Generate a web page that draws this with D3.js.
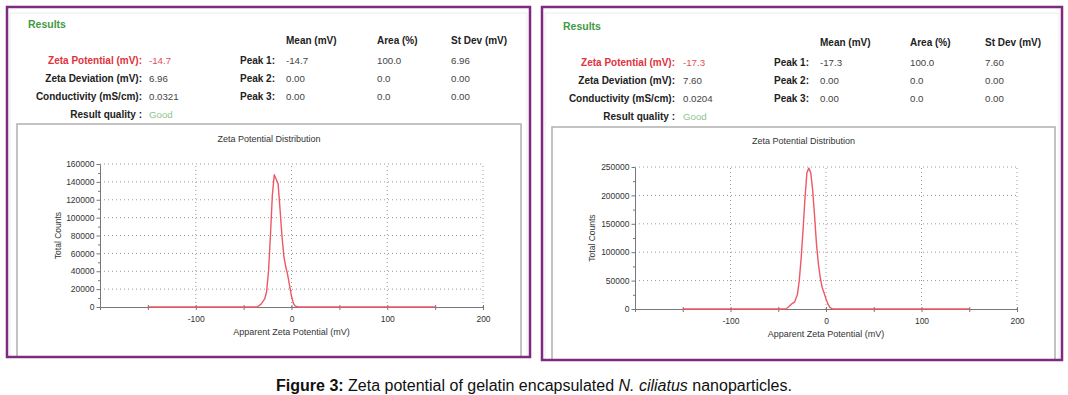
<!DOCTYPE html>
<html lang="en">
<head>
<meta charset="UTF-8">
<title>Zeta potential of gelatin encapsulated N. ciliatus nanoparticles</title>
<script src="https://d3js.org/d3.v7.min.js"></script>
<style>
  body { margin: 0; padding: 0; background: #fff; }
  svg { display: block; font-family: "Liberation Sans", Arial, sans-serif; }
  .lbl { font-weight: bold; fill: #222; font-size: 10px; }
  .val { fill: #444; font-size: 9.7px; }
  .axis text { font-size: 8.5px; fill: #333; font-family: "Liberation Sans", Arial, sans-serif; }
  .axis path, .axis line { stroke: #777; }
  .grid { stroke: #9a9a9a; stroke-dasharray: 1,3; fill: none; }
</style>
</head>
<body>
<svg id="fig" width="1068" height="395"></svg>
<script>
// results table
const resultLabels = ["Zeta Potential (mV):", "Zeta Deviation (mV):", "Conductivity (mS/cm):", "Result quality :"];
const leftResultValues = ["-14.7", "6.96", "0.0321", "Good"];
const rightResultValues = ["-17.3", "7.60", "0.0204", "Good"];
const peakLabels = ["Peak 1:", "Peak 2:", "Peak 3:"];
const peakColumns = ["Mean (mV)", "Area (%)", "St Dev (mV)"];
const leftPeaks = [["-14.7", "100.0", "6.96"], ["0.00", "0.0", "0.00"], ["0.00", "0.0", "0.00"]];
const rightPeaks = [["-17.3", "100.0", "7.60"], ["0.00", "0.0", "0.00"], ["0.00", "0.0", "0.00"]];

// distribution curves (mV, total counts)
const leftX = [-150, -36, -32, -28, -26, -24, -22, -20, -18, -16, -14, -12, -10, -8, -6, -4, -2, 0, 2, 4, 7, 150];
const leftY = [0, 0, 3000, 9000, 17000, 40000, 80000, 125000, 148000, 143000, 138000, 110000, 80000, 57000, 45000, 36000, 24000, 12000, 4000, 1000, 0, 0];
const rightX = [-150, -42, -39, -36, -33, -30, -28, -26, -24, -22, -20, -18, -16, -14, -12, -10, -8, -6, -4, -2, 0, 2, 4, 7, 150];
const rightY = [0, 0, 4000, 9000, 12000, 25000, 50000, 90000, 140000, 195000, 240000, 248000, 240000, 210000, 165000, 115000, 80000, 55000, 38000, 28000, 18000, 9000, 3000, 0, 0];

// ticks
const xDomain = [-200, 200];
const xTicks = [-200, -150, -100, -50, 0, 50, 100, 150, 200];
const xLabelTicks = [-100, 0, 100, 200];
const leftYMajor = [0, 20000, 40000, 60000, 80000, 100000, 120000, 140000, 160000];
const leftYMinor = [10000, 30000, 50000, 70000, 90000, 110000, 130000, 150000];
const rightYMajor = [0, 50000, 100000, 150000, 200000, 250000];
const rightYMinor = [25000, 75000, 125000, 175000, 225000];

const svg = d3.select("#fig");
svg.append("rect").attr("width", 1068).attr("height", 395).attr("fill", "#fff");

const panels = [
  {
    frame: [7, 7, 523, 350], box: [17, 124, 504, 233],
    res: { titleX: 28, titleY: 24, headY: 40, rowY: [60, 78, 96, 114], labelEnd: 142, valX: 149, peakEnd: 275, colX: [286, 377, 451] },
    plot: { x0: 100, x1: 483, y0: 307, y1: 164, titleY: 139, xLabY: 332, yLabX: 58 },
    xs: leftX, ys: leftY, yMajor: leftYMajor, yMinor: leftYMinor,
    values: leftResultValues, peaks: leftPeaks
  },
  {
    frame: [542, 7, 520, 353], box: [552, 127, 503, 233],
    res: { titleX: 563, titleY: 26, headY: 42, rowY: [62, 80, 98, 116], labelEnd: 675, valX: 683, peakEnd: 809, colX: [820, 910, 985] },
    plot: { x0: 635, x1: 1017, y0: 309, y1: 167, titleY: 141, xLabY: 334, yLabX: 592 },
    xs: rightX, ys: rightY, yMajor: rightYMajor, yMinor: rightYMinor,
    values: rightResultValues, peaks: rightPeaks
  }
];

panels.forEach(drawPanel);

function drawPanel(p) {
  const g = svg.append("g");
  const [fx, fy, fw, fh] = p.frame;

  // faint inner frame and chart box
  g.append("rect").attr("x", fx + 3).attr("y", fy + 6).attr("width", fw - 6).attr("height", fh - 6)
    .attr("fill", "none").attr("stroke", "#ececec").attr("stroke-width", 1);
  const [bx, by, bw, bh] = p.box;
  g.append("rect").attr("x", bx).attr("y", by).attr("width", bw).attr("height", bh)
    .attr("fill", "#fff").attr("stroke", "#b0b0b0").attr("stroke-width", 1.5);

  // results block
  const r = p.res;
  g.append("text").attr("x", r.titleX).attr("y", r.titleY).attr("dominant-baseline", "central")
    .attr("font-size", 10.5).attr("font-weight", "bold").attr("fill", "#3f9a45").text("Results");

  resultLabels.forEach((t, i) => {
    g.append("text").attr("class", "lbl").attr("x", r.labelEnd).attr("y", r.rowY[i])
      .attr("text-anchor", "end").attr("dominant-baseline", "central")
      .style("fill", i === 0 ? "#e0323c" : null).text(t);
    g.append("text").attr("class", "val").attr("x", r.valX).attr("y", r.rowY[i])
      .attr("dominant-baseline", "central")
      .style("fill", i === 0 ? "#e0505a" : i === 3 ? "#8cc48e" : null).text(p.values[i]);
  });

  peakColumns.forEach((t, j) => {
    g.append("text").attr("class", "lbl").attr("x", r.colX[j]).attr("y", r.headY)
      .attr("dominant-baseline", "central").text(t);
  });
  peakLabels.forEach((t, i) => {
    g.append("text").attr("class", "lbl").attr("x", r.peakEnd).attr("y", r.rowY[i])
      .attr("text-anchor", "end").attr("dominant-baseline", "central").text(t);
    p.peaks[i].forEach((v, j) => {
      g.append("text").attr("class", "val").attr("x", r.colX[j]).attr("y", r.rowY[i])
        .attr("dominant-baseline", "central").text(v);
    });
  });

  // plot
  const q = p.plot;
  const x = d3.scaleLinear().domain(xDomain).range([q.x0, q.x1]);
  const y = d3.scaleLinear().domain([0, d3.max(p.yMajor)]).range([q.y0, q.y1]);

  g.append("text").attr("x", bx + bw / 2).attr("y", q.titleY).attr("text-anchor", "middle")
    .attr("dominant-baseline", "central").attr("font-size", 9).attr("fill", "#333")
    .text("Zeta Potential Distribution");

  // grid
  const grid = g.append("g").attr("class", "grid");
  grid.selectAll("line.h").data(p.yMajor.filter(v => v > 0)).join("line").attr("class", "h")
    .attr("x1", q.x0).attr("x2", q.x1).attr("y1", d => y(d)).attr("y2", d => y(d));
  grid.selectAll("line.v").data(xLabelTicks).join("line").attr("class", "v")
    .attr("x1", d => x(d)).attr("x2", d => x(d)).attr("y1", q.y0).attr("y2", q.y1);

  // axes
  g.append("g").attr("class", "axis").attr("transform", `translate(${q.x0},0)`)
    .call(d3.axisLeft(y).tickValues(p.yMinor).tickSize(2).tickSizeOuter(0).tickFormat(""))
    .call(s => s.select(".domain").remove());
  g.append("g").attr("class", "axis").attr("transform", `translate(${q.x0},0)`)
    .call(d3.axisLeft(y).tickValues(p.yMajor).tickSize(3.5).tickSizeOuter(0).tickPadding(2).tickFormat(d3.format("d")));
  g.append("g").attr("class", "axis").attr("transform", `translate(0,${q.y0})`)
    .call(d3.axisBottom(x).tickValues(xTicks).tickSize(3).tickSizeOuter(0).tickPadding(6)
      .tickFormat(d => xLabelTicks.includes(d) ? d : ""))
    .call(s => s.selectAll(".tick line").attr("y1", -2).attr("stroke", "#444"));

  // curve
  const pts = p.xs.map((v, i) => [v, p.ys[i]]);
  g.append("path").datum(pts)
    .attr("fill", "none").attr("stroke", "#ec5866").attr("stroke-width", 1.4).attr("stroke-linejoin", "round")
    .attr("d", d3.line().x(d => x(d[0])).y(d => y(d[1])));

  // axis titles
  g.append("text").attr("x", (q.x0 + q.x1) / 2).attr("y", q.xLabY).attr("text-anchor", "middle")
    .attr("dominant-baseline", "central").attr("font-size", 9).attr("fill", "#333")
    .text("Apparent Zeta Potential (mV)");
  g.append("text").attr("transform", `translate(${q.yLabX},${(q.y0 + q.y1) / 2}) rotate(-90)`)
    .attr("text-anchor", "middle").attr("dominant-baseline", "central").attr("font-size", 8.5).attr("fill", "#333")
    .text("Total Counts");

  // purple panel border
  g.append("rect").attr("x", fx).attr("y", fy).attr("width", fw).attr("height", fh)
    .attr("fill", "none").attr("stroke", "#7d2a80").attr("stroke-width", 2.5);
}

// caption
const cap = svg.append("text").attr("x", 534).attr("y", 385).attr("text-anchor", "middle")
  .attr("dominant-baseline", "central").attr("font-size", 16).attr("fill", "#111");
cap.append("tspan").attr("font-weight", "bold").text("Figure 3:");
cap.append("tspan").text(" Zeta potential of gelatin encapsulated ");
cap.append("tspan").attr("font-style", "italic").text("N. ciliatus");
cap.append("tspan").text(" nanoparticles.");
</script>
</body>
</html>
